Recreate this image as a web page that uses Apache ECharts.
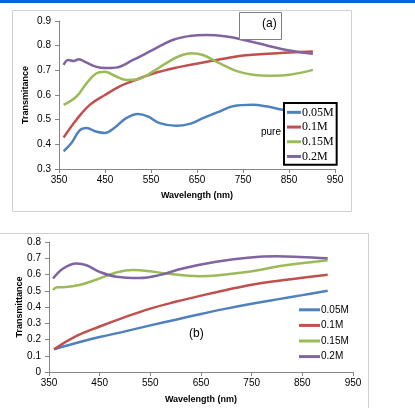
<!DOCTYPE html>
<html><head><meta charset="utf-8">
<script src="https://cdn.jsdelivr.net/npm/echarts@6/dist/echarts.min.js"></script>
<style>html,body{margin:0;padding:0;background:#fff}#c{width:415px;height:408px}</style>
</head><body><div id="c"></div>
<script>
// Chart (a)
const seriesNames = ['0.05M', '0.1M', '0.15M', '0.2M'];
const a005 = [[360,0.372],[377,0.405],[395,0.457],[410,0.466],[430,0.452],[450,0.446],[470,0.466],[496,0.506],[522,0.523],[543,0.513],[569,0.486],[605,0.475],[634,0.483],[663,0.506],[699,0.533],[728,0.554],[771,0.560],[800,0.554],[837,0.540],[870,0.530],[900,0.522]];
const a01 = [[360,0.428],[388,0.500],[417,0.560],[450,0.600],[482,0.635],[511,0.657],[553,0.686],[605,0.711],[655,0.729],[714,0.749],[756,0.761],[851,0.772],[902,0.776]];
const a015 = [[360,0.560],[388,0.594],[409,0.645],[430,0.686],[450,0.694],[471,0.678],[496,0.661],[522,0.664],[554,0.695],[583,0.729],[612,0.758],[638,0.769],[663,0.762],[699,0.729],[735,0.698],[771,0.682],[815,0.678],[851,0.682],[902,0.702]];
const a02 = [[360,0.722],[370,0.742],[382,0.738],[393,0.745],[409,0.732],[430,0.715],[450,0.709],[473,0.711],[511,0.742],[554,0.783],[597,0.823],[634,0.839],[670,0.843],[714,0.837],[757,0.821],[800,0.802],[851,0.780],[902,0.767]];
// Chart (b)
const b005 = [[360,0.140],[400,0.175],[450,0.215],[500,0.250],[550,0.287],[600,0.322],[650,0.357],[700,0.390],[750,0.420],[800,0.447],[850,0.473],[900,0.500]];
const b01 = [[360,0.140],[400,0.215],[450,0.280],[500,0.338],[550,0.390],[600,0.432],[650,0.470],[700,0.505],[750,0.537],[800,0.560],[850,0.580],[900,0.598]];
const b015 = [[358,0.505],[366,0.522],[378,0.522],[410,0.535],[443,0.568],[483,0.612],[516,0.627],[549,0.620],[582,0.606],[647,0.590],[680,0.594],[747,0.618],[813,0.655],[900,0.688]];
const b02 = [[358,0.575],[378,0.637],[404,0.668],[424,0.657],[450,0.616],[483,0.586],[529,0.578],[568,0.596],[614,0.637],[680,0.678],[747,0.705],[799,0.712],[845,0.708],[900,0.700]];
const xTicksA = [350, 950, 100];
const yTicksA = [0.3, 0.9, 0.1];
const yTicksB = [0, 0.8, 0.1];

const colors = ['#4F81BD', '#C0504D', '#9BBB59', '#8064A2'];
const sans = 'Liberation Sans';
const axisLine = {show: true, lineStyle: {color: '#868686', width: 1}};
const axisTick = {show: true, length: 4, lineStyle: {color: '#868686'}};
const lbl = {color: '#000', fontSize: 10, fontFamily: sans};
const nameStyle = {color: '#000', fontSize: 9, fontWeight: 'bold', fontFamily: sans};

function xAxis(gi, gap) {
  return {type: 'value', gridIndex: gi, min: xTicksA[0], max: xTicksA[1], interval: xTicksA[2],
    axisLine, axisTick, axisLabel: Object.assign({margin: 6}, lbl), splitLine: {show: false},
    name: 'Wavelength (nm)', nameLocation: 'middle', nameGap: gap, nameMoveOverlap: false, nameTextStyle: nameStyle};
}
function yAxis(gi, t, name, gap) {
  return {type: 'value', gridIndex: gi, min: t[0], max: t[1], interval: t[2],
    axisLine, axisTick, splitLine: {show: false},
    axisLabel: Object.assign({margin: 8, formatter: v => v === 0 ? '0' : v.toFixed(1)}, lbl),
    name, nameLocation: 'middle', nameGap: gap, nameMoveOverlap: false, nameTextStyle: nameStyle};
}
function ser(name, data, xi, i) {
  return {type: 'line', name, data, xAxisIndex: xi, yAxisIndex: xi, smooth: 0.4, symbol: 'none',
    lineStyle: {width: 2.5, color: colors[i]}, itemStyle: {color: colors[i]}, z: 3};
}

const chart = echarts.init(document.getElementById('c'), null, {renderer: 'canvas'});
chart.setOption({
  animation: false,
  grid: [
    {left: 59, top: 21, width: 276, height: 148},
    {left: 49, top: 242, width: 304, height: 130}
  ],
  xAxis: [xAxis(0, 22.5), xAxis(1, 23.5)],
  yAxis: [yAxis(0, yTicksA, 'Transmitance', 29), yAxis(1, yTicksB, 'Transmittance', 24.5)],
  legend: [
    {data: seriesNames, orient: 'vertical', left: 284, top: 103, width: 55,
      padding: [2, 3, 1, 3], itemGap: 0, itemWidth: 14, itemHeight: 3, icon: 'rect',
      backgroundColor: '#fff', borderColor: '#000', borderWidth: 2,
      textStyle: {fontFamily: 'Liberation Serif', fontSize: 12, lineHeight: 14.7, color: '#000', padding: [0, 0, 0, -4]},
      selectedMode: false},
    {data: seriesNames, orient: 'vertical', left: 299, top: 302,
      padding: 0, itemGap: 0, itemWidth: 21, itemHeight: 3, icon: 'rect',
      textStyle: {fontFamily: sans, fontSize: 10, lineHeight: 15.6, color: '#000', padding: [0, 0, 0, -4]},
      selectedMode: false}
  ],
  series: [
    ser(seriesNames[0], a005, 0, 0), ser(seriesNames[1], a01, 0, 1),
    ser(seriesNames[2], a015, 0, 2), ser(seriesNames[3], a02, 0, 3),
    ser(seriesNames[0], b005, 1, 0), ser(seriesNames[1], b01, 1, 1),
    ser(seriesNames[2], b015, 1, 2), ser(seriesNames[3], b02, 1, 3)
  ],
  graphic: [
    {type: 'rect', shape: {x: 0, y: 0, width: 415, height: 3}, style: {fill: '#0a64d8'}, z: 0},
    {type: 'rect', shape: {x: 12.5, y: 10.5, width: 339, height: 201}, style: {fill: 'none', stroke: '#d0d0d0', lineWidth: 1}, z: 0},
    {type: 'rect', shape: {x: -1, y: 233.5, width: 369.5, height: 200}, style: {fill: 'none', stroke: '#d0d0d0', lineWidth: 1}, z: 0},
    {type: 'rect', shape: {x: 239.5, y: 12.5, width: 42, height: 27}, style: {fill: '#fff', stroke: '#7f7f7f', lineWidth: 1}, z: 10},
    {type: 'text', left: 262, top: 18, style: {text: '(a)', font: '12px "Liberation Sans"', fill: '#000'}, z: 11},
    {type: 'text', left: 261, top: 127, style: {text: 'pure', font: '10px "Liberation Sans"', fill: '#000'}, z: 11},
    {type: 'text', left: 189, top: 328, style: {text: '(b)', font: '12px "Liberation Sans"', fill: '#000'}, z: 11}
  ]
});
</script></body></html>
